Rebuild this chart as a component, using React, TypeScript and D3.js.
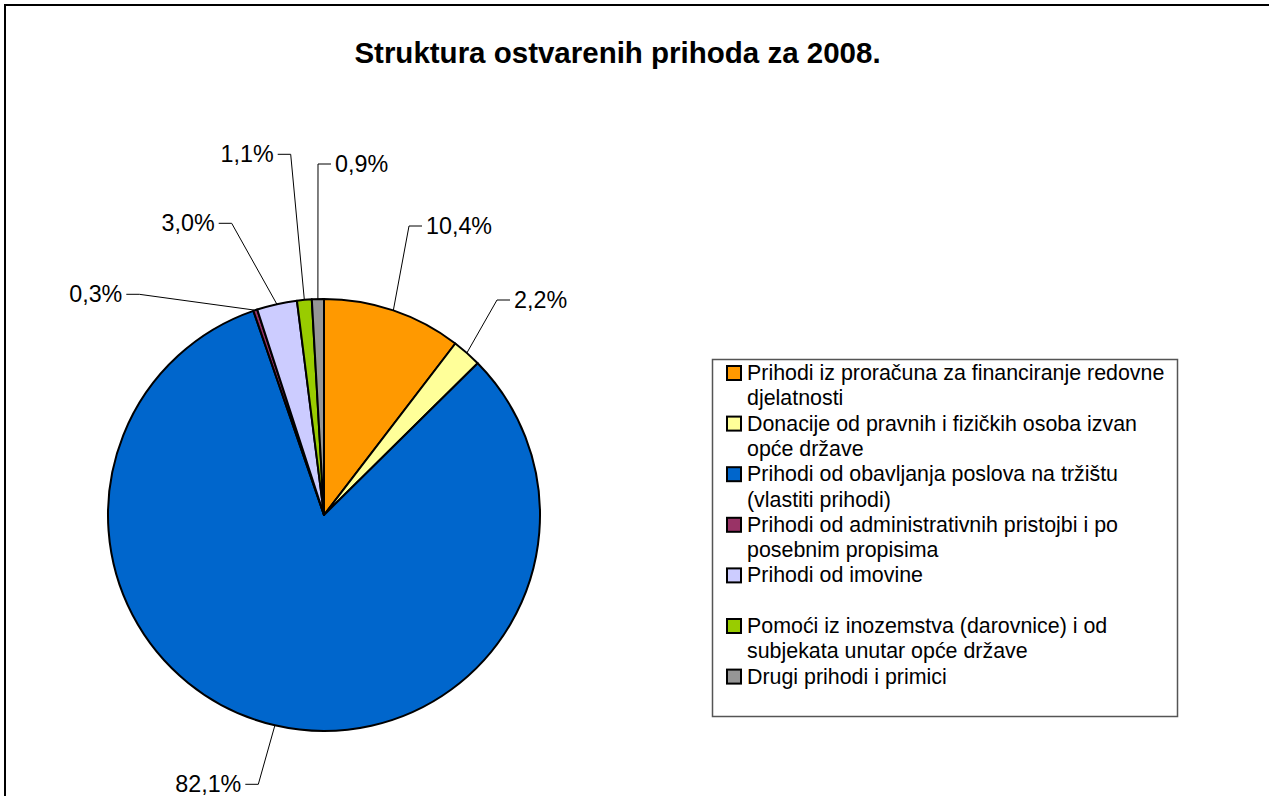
import React from 'react';
import * as d3 from 'd3';

// chart data
const title = 'Struktura ostvarenih prihoda za 2008.';
const categories = [
  'Prihodi iz proračuna za financiranje redovne djelatnosti',
  'Donacije od pravnih i fizičkih osoba izvan opće države',
  'Prihodi od obavljanja poslova na tržištu (vlastiti prihodi)',
  'Prihodi od administrativnih pristojbi i po posebnim propisima',
  'Prihodi od imovine',
  'Pomoći iz inozemstva (darovnice) i od subjekata unutar opće države',
  'Drugi prihodi i primici',
];
const shares = [10.4, 2.2, 82.1, 0.3, 3.0, 1.1, 0.9];
const colors = ['#FF9900', '#FFFF99', '#0066CC', '#993366', '#CCCCFF', '#99CC00', '#969696'];

// label elbows, relative to the pie centre, and which side the text sits on
const labelElbows: [number, number][] = [
  [85, -289],
  [173, -215],
  [-65.7, 269.3],
  [-184.7, -220.7],
  [-92.3, -291.7],
  [-33.3, -360.7],
  [-6, -351],
];
const labelSide = ['right', 'right', 'left', 'left', 'left', 'left', 'right'];

const width = 1269;
const height = 796;
const cx = 324;
const cy = 515;
const radius = 216;
const tick = 13;
const font = 'Arial, "Liberation Sans", sans-serif';

const locale = d3.formatLocale({ decimal: ',', thousands: '.', grouping: [3], currency: ['', ''] });
const fmt = locale.format('.1f');

const wrap = (text: string, maxChars: number) => {
  const lines: string[] = [];
  let cur = '';
  text.split(' ').forEach((w) => {
    if (cur && (cur + ' ' + w).length > maxChars) {
      lines.push(cur);
      cur = w;
    } else {
      cur = cur ? cur + ' ' + w : w;
    }
  });
  if (cur) lines.push(cur);
  return lines;
};

const App = () => {
  const pie = d3.pie<number>().sort(null).value((d) => d);
  const arcs = pie(shares);
  const arc = d3.arc<d3.PieArcDatum<number>>().innerRadius(0).outerRadius(radius);
  const edge = d3.arc<d3.PieArcDatum<number>>().innerRadius(radius).outerRadius(radius);

  const legend = { x: 712, y: 359, w: 465, h: 357 };
  const entryStep = 50.6;
  const lineStep = 25.3;

  return (
    <svg
      width={width}
      height={height}
      style={{ position: 'absolute', left: 0, top: 0, background: '#fff' }}
      fontFamily={font}
    >
      <rect x={0} y={0} width={width} height={height} fill="#fff" />
      <rect x={5} y={5} width={1400} height={1000} fill="none" stroke="#000" strokeWidth={2} />

      <text x={617.5} y={63} textAnchor="middle" fontSize={29.5} fontWeight="bold" fill="#000">
        {title}
      </text>

      <g transform={`translate(${cx},${cy})`}>
        {arcs.map((a, i) => (
          <path key={i} d={arc(a) || ''} fill={colors[i]} stroke="#000" strokeWidth={2} strokeLinejoin="round" />
        ))}
        {arcs.map((a, i) => {
          const [sx, sy] = edge.centroid(a);
          const [ex, ey] = labelElbows[i];
          const right = labelSide[i] === 'right';
          const tx = right ? ex + tick : ex - tick;
          return (
            <g key={'l' + i}>
              <polyline
                points={`${sx},${sy} ${ex},${ey} ${tx},${ey}`}
                fill="none"
                stroke="#000"
                strokeWidth={1}
              />
              <text
                x={right ? tx + 4 : tx - 4}
                y={ey + 8}
                textAnchor={right ? 'start' : 'end'}
                fontSize={23.3}
                fill="#000"
              >
                {fmt(shares[i]) + '%'}
              </text>
            </g>
          );
        })}
      </g>

      <rect
        x={legend.x + 0.5}
        y={legend.y + 0.5}
        width={legend.w}
        height={legend.h}
        fill="#fff"
        stroke="#555"
        strokeWidth={1.5}
      />
      {categories.map((c, i) => {
        const top = legend.y + 7 + i * entryStep;
        return (
          <g key={'g' + i}>
            <rect x={727} y={top} width={14} height={14} fill={colors[i]} stroke="#000" strokeWidth={2} />
            <text x={747} fontSize={21.4} fill="#000">
              {wrap(c, 44).map((line, j) => (
                <tspan key={j} x={747} y={top + 14 + j * lineStep}>
                  {line}
                </tspan>
              ))}
            </text>
          </g>
        );
      })}
    </svg>
  );
};

export default App;
